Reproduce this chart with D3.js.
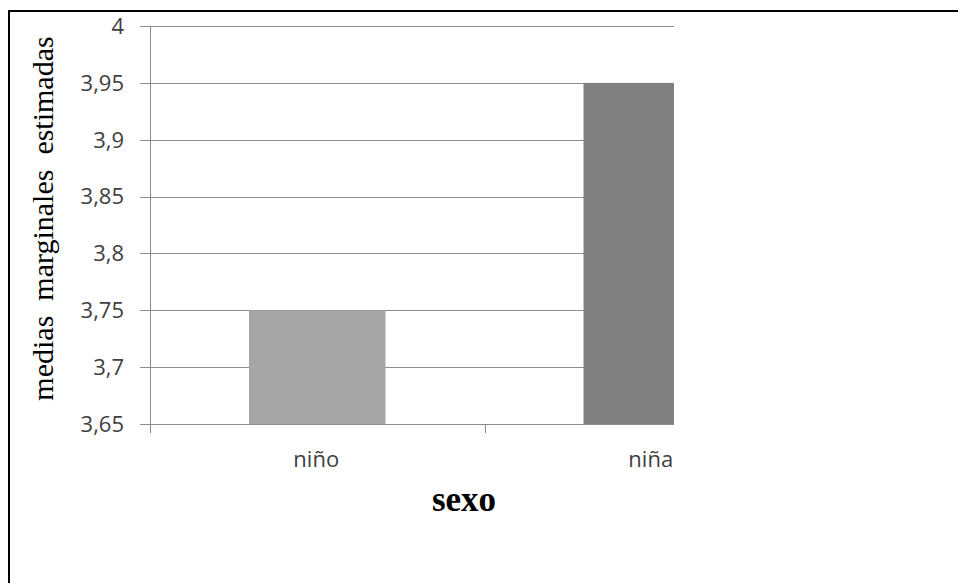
<!DOCTYPE html>
<html><head><meta charset="utf-8">
<script src="https://cdn.jsdelivr.net/npm/d3@7"></script>
<style>body{margin:0;background:#fff}</style>
</head><body>
<script>
const categories = ["niño", "niña"];
const values = [3.75, 3.95];
const barColors = ["#a6a6a6", "#808080"];
const yTicks = [3.65, 3.7, 3.75, 3.8, 3.85, 3.9, 3.95, 4];
const yTitle = "medias  marginales  estimadas";
const xTitle = "sexo";

(function () {
const W = 958, H = 583;
const svg = d3.select("body").append("svg").attr("width", W).attr("height", H);

// frame (only top & left visible)
svg.append("path").attr("d", `M9,${H} V11 H${W}`).attr("fill", "none")
  .attr("stroke", "#000").attr("stroke-width", 2);

const pLeft = 150, pBottom = 424, pTop = 26, clipRight = 674;
const y = d3.scaleLinear().domain([3.65, 4]).range([pBottom, pTop]);
const x = d3.scaleBand().domain(categories).range([pLeft, 819])
  .paddingInner(0.592).paddingOuter(0.296);
const step = x.step();

svg.append("clipPath").attr("id", "clip").append("rect")
  .attr("x", 0).attr("y", 0).attr("width", clipRight).attr("height", H);

const g = svg.append("g").attr("clip-path", "url(#clip)");
const gridColor = "#8c8c8c";

// gridlines
g.selectAll("line.grid").data(yTicks).enter().append("line")
  .attr("x1", pLeft - 10).attr("x2", 819)
  .attr("y1", d => Math.round(y(d)) + 0.5).attr("y2", d => Math.round(y(d)) + 0.5)
  .attr("stroke", gridColor).attr("stroke-width", 1);

// bars
g.selectAll("rect.bar").data(categories).enter().append("rect")
  .attr("x", d => x(d)).attr("width", x.bandwidth())
  .attr("y", (d, i) => y(values[i])).attr("height", (d, i) => pBottom - y(values[i]))
  .attr("fill", (d, i) => barColors[i]);

// y axis line
g.append("line").attr("x1", pLeft + 0.5).attr("x2", pLeft + 0.5)
  .attr("y1", pTop).attr("y2", pBottom + 9).attr("stroke", gridColor);
// x axis line
g.append("line").attr("x1", pLeft).attr("x2", 819)
  .attr("y1", pBottom + 0.5).attr("y2", pBottom + 0.5).attr("stroke", gridColor);
// category separator ticks
const sepX = d3.range(categories.length + 1).map(i => pLeft + i * step);
g.selectAll("line.xt").data(sepX).enter().append("line")
  .attr("x1", d => Math.round(d) + 0.5).attr("x2", d => Math.round(d) + 0.5)
  .attr("y1", pBottom).attr("y2", pBottom + 9).attr("stroke", gridColor);

// y tick labels
const fmt = d => String(d).replace(".", ",");
svg.selectAll("text.yl").data(yTicks).enter().append("text")
  .attr("x", 124).attr("y", d => y(d)).attr("dy", "0.36em")
  .attr("text-anchor", "end").attr("font-family", "Open Sans")
  .attr("font-size", 22).attr("fill", "#404040").text(fmt);

// category labels
g.selectAll("text.xl").data(categories).enter().append("text")
  .attr("x", d => x(d) + x.bandwidth() / 2 - 1).attr("y", 467)
  .attr("text-anchor", "middle").attr("font-family", "Open Sans")
  .attr("font-size", 22).attr("fill", "#404040").text(d => d);

// titles
svg.append("text").attr("x", 464).attr("y", 511).attr("text-anchor", "middle")
  .attr("font-family", "Liberation Serif").attr("font-weight", "bold")
  .attr("font-size", 35).attr("fill", "#000").text(xTitle);

svg.append("text").attr("transform", "translate(53,218.5) rotate(-90)")
  .attr("text-anchor", "middle").attr("font-family", "Liberation Serif")
  .attr("font-size", 30).attr("fill", "#000")
  .style("white-space", "pre").text(yTitle);
})();
</script>
</body></html>
